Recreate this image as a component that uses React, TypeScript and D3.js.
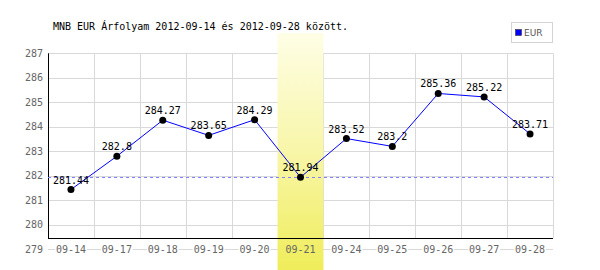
import React from "react";
import * as d3 from "d3";

const title = "MNB EUR Árfolyam 2012-09-14 és 2012-09-28 között.";
const categories = ["09-14", "09-17", "09-18", "09-19", "09-20", "09-21", "09-24", "09-25", "09-26", "09-27", "09-28"];
const values = [281.44, 282.8, 284.27, 283.65, 284.29, 281.94, 283.52, 283.2, 285.36, 285.22, 283.71];
const valueLabels = ["281.44", "282.8", "284.27", "283.65", "284.29", "281.94", "283.52", "283.2", "285.36", "285.22", "283.71"];
const yTicks = [279, 280, 281, 282, 283, 284, 285, 286, 287];
const highlightCategory = "09-21";
const referenceValue = 281.94;
const seriesName = "EUR";

const W = 600;
const H = 270;
const mono = "'DejaVu Sans Mono', monospace";

export default function App() {
  const x = d3.scaleBand<string>().domain(categories).range([48, 553]).padding(0);
  const y = d3.scaleLinear().domain([279, 287]).range([249.3, 53.3]);
  const [x0, x1] = x.range();
  const yTop = y(287);
  const axisY = y(279) - 11.3;
  const line = d3
    .line<number>()
    .x((_, i) => (x(categories[i]) as number) + x.bandwidth() / 2)
    .y((d) => y(d));
  const hx = x(highlightCategory) as number;

  return (
    <svg width={W} height={H} style={{ position: "absolute", left: 0, top: 0, background: "#fff" }}>
      <defs>
        <linearGradient id="hl" x1="0" y1="0" x2="0" y2="1">
          <stop offset="0%" stopColor="#fefee6" />
          <stop offset="50%" stopColor="#f8f6a8" />
          <stop offset="100%" stopColor="#efed5a" />
        </linearGradient>
      </defs>
      <rect x={0} y={0} width={W} height={H} fill="#fff" />
      <text x={53} y={30} fontFamily={mono} fontSize={10} fill="#000">
        {title}
      </text>
      {yTicks.map((t) => (
        <line key={"g" + t} x1={x0} x2={x1} y1={Math.round(y(t)) + 0.5} y2={Math.round(y(t)) + 0.5} stroke="#d9d9d9" strokeWidth={1} />
      ))}
      {categories.map((c, i) => {
        const gx = Math.round((x(c) as number) + x.bandwidth()) + 0.5;
        return <line key={"v" + i} x1={gx} x2={gx} y1={yTop} y2={axisY} stroke="#d9d9d9" strokeWidth={1} />;
      })}
      <rect x={hx} y={33} width={x.bandwidth()} height={H - 33} fill="url(#hl)" />
      {categories.map((c, i) =>
        c === highlightCategory ? null : (
          <rect key={"lb" + i} x={(x(c) as number) + x.bandwidth() / 2 - 16} y={y(279) - 5} width={32} height={10} fill="#fff" />
        )
      )}
      <line x1={Math.round(x0) + 0.5} x2={Math.round(x0) + 0.5} y1={yTop} y2={Math.round(axisY) + 0.5} stroke="#000" strokeWidth={1} />
      <line x1={x0} x2={x1} y1={Math.round(axisY) + 0.5} y2={Math.round(axisY) + 0.5} stroke="#000" strokeWidth={1} />
      {yTicks.map((t) => (
        <text key={"yl" + t} x={43} y={y(t) + 3.5} textAnchor="end" fontFamily={mono} fontSize={10} fill="#666">
          {t}
        </text>
      ))}
      {categories.map((c, i) => (
        <text key={"xl" + i} x={(x(c) as number) + x.bandwidth() / 2} y={y(279) + 3.5} textAnchor="middle" fontFamily={mono} fontSize={10} fill="#666">
          {c}
        </text>
      ))}
      <line x1={x0} x2={x1} y1={Math.round(y(referenceValue)) + 0.5} y2={Math.round(y(referenceValue)) + 0.5} stroke="#8080ff" strokeWidth={1} strokeDasharray="3,3" />
      <path d={line(values) || ""} fill="none" stroke="#0000ff" strokeWidth={1} />
      {values.map((v, i) => (
        <circle key={"p" + i} cx={(x(categories[i]) as number) + x.bandwidth() / 2} cy={y(v)} r={3.5} fill="#000" />
      ))}
      {values.map((v, i) => (
        <text key={"t" + i} x={(x(categories[i]) as number) + x.bandwidth() / 2} y={y(v) - 6} textAnchor="middle" fontFamily={mono} fontSize={10} fill="#000">
          {valueLabels[i]}
        </text>
      ))}
      <rect x={511.5} y={22.5} width={41} height={20} fill="#fff" stroke="#d4d4d4" strokeWidth={1} />
      <rect x={515.5} y={29.5} width={6} height={6} fill="#0000ff" stroke="#333" strokeWidth={0.6} />
      <text x={524} y={36} fontFamily="'DejaVu Sans', sans-serif" fontSize={9} fill="#555">
        {seriesName}
      </text>
    </svg>
  );
}
